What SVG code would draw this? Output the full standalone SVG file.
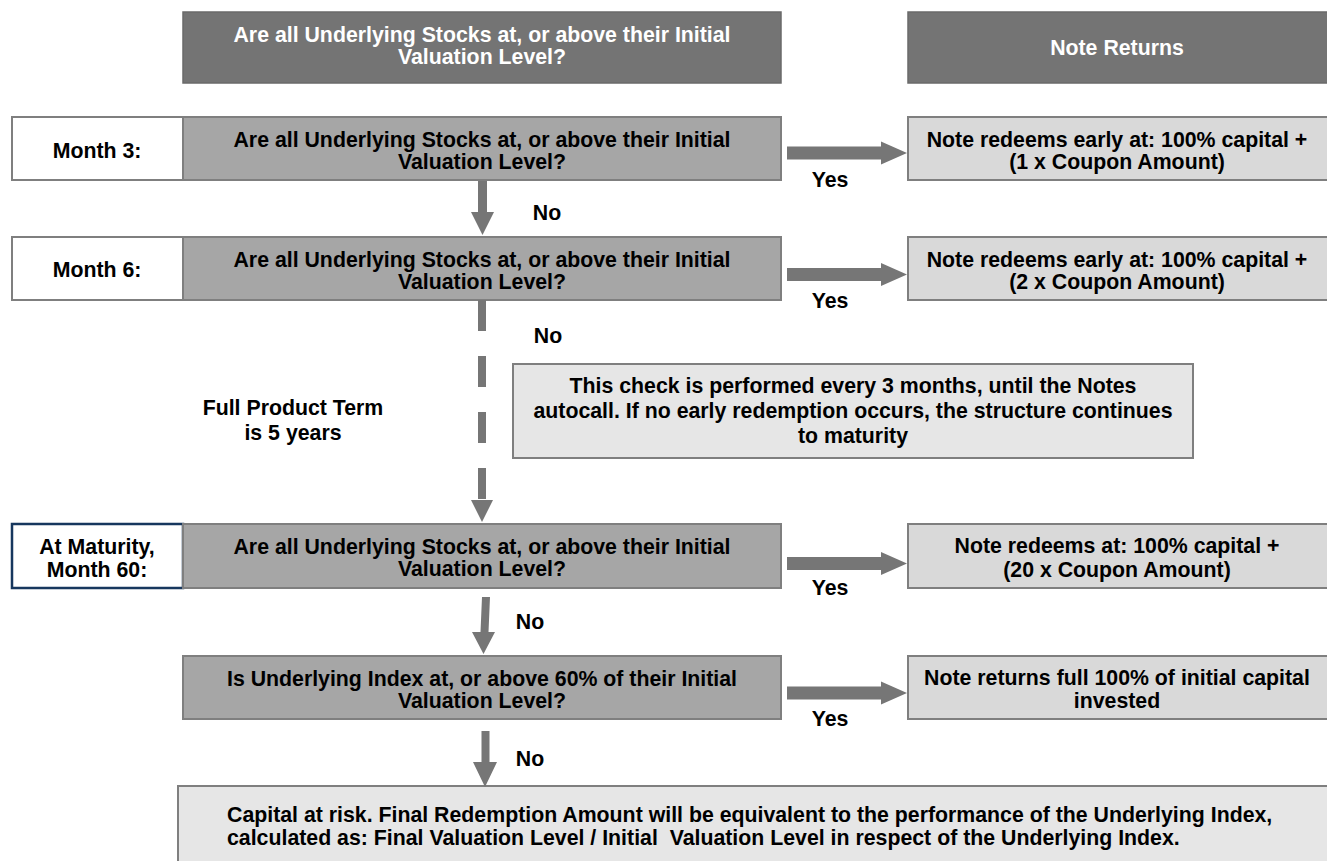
<svg xmlns="http://www.w3.org/2000/svg" xmlns:xlink="http://www.w3.org/1999/xlink" width="1327" height="861" viewBox="0 0 1327 861">
<style>
text{font-family:"Liberation Sans",Arial,sans-serif;font-weight:bold;font-size:21.3px;fill:#000;text-anchor:middle}
.hdr{fill:#747474;stroke:#6a6a6a;stroke-width:1.5}
.hdr-t{fill:#fff}
.q{fill:#a6a6a6;stroke:#7f7f7f;stroke-width:2}
.ans{fill:#d9d9d9;stroke:#7f7f7f;stroke-width:2}
.info{fill:#e6e6e6;stroke:#7f7f7f;stroke-width:2}
.lbl{fill:#fff;stroke:#7f7f7f;stroke-width:2}
.lbl-n{fill:#fff;stroke:#17375e;stroke-width:2.5}
.arr{fill:#767676}
.lt{text-anchor:start}
</style>
<defs>
<path id="ra" d="M0,-6.5 H94 V-11.5 L120,0 L94,11.5 V6.5 H0 Z"/>
</defs>

<g id="header-question">
<rect class="hdr" x="183" y="12" width="598" height="71"/>
<text class="hdr-t" x="482" y="42">Are all Underlying Stocks at, or above their Initial</text>
<text class="hdr-t" x="482" y="64">Valuation Level?</text>
</g>
<g id="header-returns">
<rect class="hdr" x="908" y="12" width="425" height="71"/>
<text class="hdr-t" x="1117" y="55">Note Returns</text>
</g>

<g id="label-month3">
<rect class="lbl" x="12" y="117" width="171" height="63"/>
<text x="97" y="158">Month 3:</text>
</g>
<g id="q-month3">
<rect class="q" x="183" y="117" width="598" height="63"/>
<text x="482" y="147">Are all Underlying Stocks at, or above their Initial</text>
<text x="482" y="169">Valuation Level?</text>
</g>
<g id="a-month3">
<rect class="ans" x="908" y="117" width="425" height="63"/>
<text x="1117" y="147">Note redeems early at: 100% capital +</text>
<text x="1117" y="169">(1 x Coupon Amount)</text>
</g>

<g id="label-month6">
<rect class="lbl" x="12" y="237" width="171" height="63"/>
<text x="97" y="277">Month 6:</text>
</g>
<g id="q-month6">
<rect class="q" x="183" y="237" width="598" height="63"/>
<text x="482" y="267">Are all Underlying Stocks at, or above their Initial</text>
<text x="482" y="289">Valuation Level?</text>
</g>
<g id="a-month6">
<rect class="ans" x="908" y="237" width="425" height="63"/>
<text x="1117" y="267">Note redeems early at: 100% capital +</text>
<text x="1117" y="289">(2 x Coupon Amount)</text>
</g>

<g id="info">
<rect class="info" x="513" y="364" width="680" height="94"/>
<text x="853" y="393">This check is performed every 3 months, until the Notes</text>
<text x="853" y="418">autocall. If no early redemption occurs, the structure continues</text>
<text x="853" y="443">to maturity</text>
</g>
<g id="term">
<text x="293" y="415">Full Product Term</text>
<text x="293" y="440">is 5 years</text>
</g>

<g id="label-maturity">
<rect class="lbl-n" x="12" y="524" width="171" height="64"/>
<text x="97" y="554">At Maturity,</text>
<text x="97" y="577">Month 60:</text>
</g>
<g id="q-maturity">
<rect class="q" x="183" y="524" width="598" height="64"/>
<text x="482" y="554">Are all Underlying Stocks at, or above their Initial</text>
<text x="482" y="576">Valuation Level?</text>
</g>
<g id="a-maturity">
<rect class="ans" x="908" y="524" width="425" height="64"/>
<text x="1117" y="553">Note redeems at: 100% capital +</text>
<text x="1117" y="577">(20 x Coupon Amount)</text>
</g>

<g id="q-index">
<rect class="q" x="183" y="656" width="598" height="63"/>
<text x="482" y="686">Is Underlying Index at, or above 60% of their Initial</text>
<text x="482" y="708">Valuation Level?</text>
</g>
<g id="a-index">
<rect class="ans" x="908" y="656" width="425" height="63"/>
<text x="1117" y="685">Note returns full 100% of initial capital</text>
<text x="1117" y="708">invested</text>
</g>

<g id="capital-at-risk">
<rect class="info" x="178" y="786" width="1160" height="90"/>
<text class="lt" x="227" y="822">Capital at risk. Final Redemption Amount will be equivalent to the performance of the Underlying Index,</text>
<text class="lt" x="227" y="845" xml:space="preserve">calculated as: Final Valuation Level / Initial  Valuation Level in respect of the Underlying Index.</text>
</g>

<g id="connectors">
<use href="#ra" class="arr" x="787" y="153"/>
<use href="#ra" class="arr" x="787" y="274.5"/>
<use href="#ra" class="arr" x="787" y="563.5"/>
<use href="#ra" class="arr" x="787" y="693"/>
<text x="830" y="187">Yes</text>
<text x="830" y="308">Yes</text>
<text x="830" y="595">Yes</text>
<text x="830" y="726">Yes</text>

<path class="arr" d="M478,181 H487 V212 H494 L482.5,235 L471,212 H478 Z"/>
<text x="547" y="220">No</text>

<line x1="482" y1="300" x2="482" y2="501" stroke="#767676" stroke-width="8" stroke-dasharray="31 25"/>
<path class="arr" d="M471,500 H493 L482,522 Z"/>
<text x="548" y="343">No</text>

<path class="arr" d="M482,597 L490,597 L488.5,632 L495,632 L483.5,654 L472,632 L480.5,632 Z"/>
<text x="530" y="629">No</text>

<path class="arr" d="M481.5,731 H489.5 V762 H497 L485,787 L473,762 H481.5 Z"/>
<text x="530" y="766">No</text>
</g>
</svg>
